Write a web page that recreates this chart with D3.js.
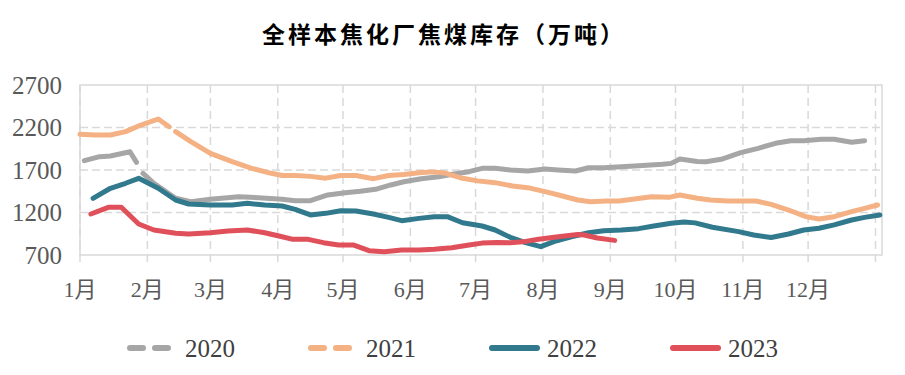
<!DOCTYPE html>
<html>
<head>
<meta charset="utf-8">
<script src="https://cdn.jsdelivr.net/npm/d3@7"></script>
<style>
  body { margin: 0; background: #fff; }
  svg { display: block; }
</style>
</head>
<body>
<div id="chart"></div>
<script>
// month gridlines (day of year) and labels
const monthStartDays = [0, 31, 60, 91, 121, 152, 182, 213, 244, 274, 305, 335, 366];
const monthLabels = ["1月", "2月", "3月", "4月", "5月", "6月", "7月", "8月", "9月", "10月", "11月", "12月"];
const yTicks = [700, 1200, 1700, 2200, 2700];

// weekly readings, x = day of year, null = gap in the line
const days2020 = [2, 9, 14, 23, 26, 27, 29, 34, 44, 51, 60, 73, 82, 93, 99, 106, 114, 122, 129, 136, 143, 149, 157, 165, 172, 179, 185, 191, 198, 206, 214, 220, 228, 234, 241, 249, 257, 268, 272, 276, 284, 288, 295, 304, 312, 320, 327, 333, 341, 347, 355, 361];
const values2020 = [1810, 1857, 1865, 1915, 1790, null, 1660, 1544, 1367, 1327, 1355, 1386, 1374, 1355, 1339, 1339, 1406, 1433, 1449, 1473, 1524, 1562, 1598, 1621, 1653, 1680, 1720, 1720, 1700, 1688, 1712, 1700, 1688, 1727, 1727, 1739, 1751, 1767, 1778, 1830, 1800, 1798, 1826, 1904, 1955, 2014, 2045, 2045, 2061, 2061, 2026, 2045];

const days2021 = [0, 7, 14, 21, 28, 36, 41, 42, 44, 51, 60, 70, 79, 88, 93, 99, 106, 113, 120, 127, 135, 142, 149, 156, 162, 168, 176, 183, 191, 199, 206, 214, 222, 229, 235, 242, 248, 255, 263, 271, 276, 284, 290, 298, 311, 318, 326, 334, 340, 347, 355, 361, 367];
const values2021 = [2120, 2112, 2112, 2151, 2229, 2300, 2209, null, 2151, 2033, 1896, 1798, 1720, 1661, 1635, 1635, 1625, 1604, 1635, 1635, 1598, 1635, 1647, 1668, 1678, 1664, 1602, 1572, 1551, 1512, 1492, 1445, 1394, 1347, 1327, 1335, 1335, 1359, 1386, 1378, 1406, 1367, 1347, 1335, 1335, 1296, 1229, 1151, 1123, 1151, 1210, 1249, 1288];

const days2022 = [6, 14, 21, 27, 36, 44, 50, 60, 70, 77, 85, 93, 99, 106, 113, 120, 127, 135, 142, 148, 156, 163, 169, 176, 185, 191, 198, 205, 212, 218, 226, 234, 241, 249, 257, 264, 272, 278, 283, 291, 303, 310, 318, 326, 333, 340, 347, 355, 361, 368];
const values2022 = [1367, 1485, 1544, 1602, 1485, 1347, 1300, 1288, 1288, 1308, 1288, 1276, 1237, 1171, 1190, 1221, 1218, 1182, 1143, 1104, 1131, 1151, 1151, 1080, 1041, 994, 908, 845, 798, 857, 915, 962, 986, 994, 1010, 1041, 1073, 1088, 1078, 1026, 975, 935, 906, 947, 994, 1014, 1055, 1112, 1143, 1171];

const days2023 = [5, 13, 19, 27, 34, 44, 50, 60, 68, 77, 85, 93, 98, 105, 112, 119, 126, 133, 140, 148, 156, 163, 171, 179, 185, 192, 198, 205, 211, 220, 229, 232, 238, 246];
const values2023 = [1182, 1261, 1261, 1065, 994, 955, 947, 962, 982, 994, 962, 915, 884, 884, 845, 817, 817, 751, 739, 759, 759, 767, 786, 817, 840, 848, 845, 860, 885, 915, 940, 935, 900, 872];

const seriesNames = ["2020", "2021", "2022", "2023"];
const seriesColors = ["#A6A6A6", "#F4B183", "#31798C", "#E0505A"];
const seriesDays = [days2020, days2021, days2022, days2023];
const seriesValues = [values2020, values2021, values2022, values2023];

const W = 905, H = 375;
const margin = { top: 85, right: 23, bottom: 120, left: 80 };
const width = W - margin.left - margin.right;
const height = H - margin.top - margin.bottom;

const svg = d3.select("#chart").append("svg")
    .attr("width", W)
    .attr("height", H);

const g = svg.append("g")
    .attr("transform", `translate(${margin.left},${margin.top})`);

const x = d3.scaleLinear().domain([0, 369]).range([0, width]);
const y = d3.scaleLinear().domain([700, 2700]).range([height, 0]);

const gridColor = "#D9D9D9";
const serif = "'Liberation Serif', 'Noto Sans CJK SC', serif";

// horizontal gridlines
g.selectAll(".hgrid")
    .data(yTicks.slice(1, -1))
    .enter().append("line")
    .attr("x1", 0).attr("x2", width)
    .attr("y1", d => y(d)).attr("y2", d => y(d))
    .attr("stroke", gridColor)
    .attr("stroke-width", 1.5)
    .attr("stroke-dasharray", "8,4");

// vertical month gridlines, running a bit below the plot as ticks
g.selectAll(".vgrid")
    .data(monthStartDays)
    .enter().append("line")
    .attr("x1", d => x(d)).attr("x2", d => x(d))
    .attr("y1", 0).attr("y2", height + 12)
    .attr("stroke", gridColor)
    .attr("stroke-width", 1.5)
    .attr("stroke-dasharray", "8,5");

// plot border
g.append("rect")
    .attr("x", 0).attr("y", 0)
    .attr("width", width).attr("height", height)
    .attr("fill", "none")
    .attr("stroke", gridColor)
    .attr("stroke-width", 1.5);

// y labels
g.selectAll(".ylab")
    .data(yTicks)
    .enter().append("text")
    .attr("x", -18)
    .attr("y", d => y(d))
    .attr("dy", "0.35em")
    .attr("text-anchor", "end")
    .style("font-family", serif)
    .style("font-size", "25px")
    .style("fill", "#595959")
    .text(d => d);

// month labels
g.selectAll(".xlab")
    .data(monthLabels)
    .enter().append("text")
    .attr("x", (d, i) => x(monthStartDays[i]))
    .attr("y", height + 42)
    .attr("text-anchor", "middle")
    .style("font-family", serif)
    .style("font-size", "22px")
    .style("fill", "#595959")
    .text(d => d);

// lines
const line = d3.line()
    .defined(d => d.v !== null)
    .x(d => x(d.day))
    .y(d => y(d.v));

seriesNames.forEach((name, i) => {
    const pts = seriesDays[i].map((day, j) => ({ day: day, v: seriesValues[i][j] }));
    g.append("path")
        .datum(pts)
        .attr("fill", "none")
        .attr("stroke", seriesColors[i])
        .attr("stroke-width", 5)
        .attr("stroke-linecap", "round")
        .attr("stroke-linejoin", "round")
        .attr("d", line);
});

// title
svg.append("text")
    .attr("x", 444)
    .attr("y", 35)
    .attr("dy", "0.35em")
    .attr("text-anchor", "middle")
    .style("font-family", "'Noto Sans CJK SC', sans-serif")
    .style("font-weight", "bold")
    .style("font-size", "23px")
    .style("letter-spacing", "3px")
    .style("fill", "#000")
    .text("全样本焦化厂焦煤库存（万吨）");

// legend
const legend = svg.append("g").attr("transform", "translate(128,348)");
seriesNames.forEach((name, i) => {
    const item = legend.append("g").attr("transform", `translate(${i * 181},0)`);
    item.append("line")
        .attr("x1", 2).attr("x2", 47)
        .attr("y1", 0).attr("y2", 0)
        .attr("stroke", seriesColors[i])
        .attr("stroke-width", 6)
        .attr("stroke-linecap", "round")
        .attr("stroke-dasharray", i < 2 ? "13,12" : null);
    item.append("text")
        .attr("x", 57)
        .attr("y", 0)
        .attr("dy", "0.35em")
        .style("font-family", serif)
        .style("font-size", "25px")
        .style("fill", "#404040")
        .text(name);
});
</script>
</body>
</html>
